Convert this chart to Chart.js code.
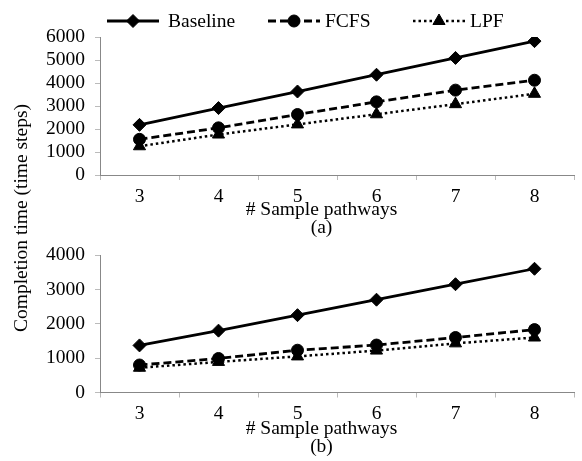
<!DOCTYPE html>
<html>
<head>
<meta charset="utf-8">
<script src="https://cdn.jsdelivr.net/npm/chart.js@4"></script>
<style>
    body { margin: 0; background: #fff; }
    #wrap { position: relative; width: 582px; height: 461px; font-family: 'Liberation Serif', 'Times New Roman', serif; color: #000; }
    #chartA { position: absolute; left: 0; top: 0; }
    #chartB { position: absolute; left: 0; top: 240px; }
    #ytitle { position: absolute; left: 21px; top: 218px; transform: translate(-50%, -50%) rotate(-90deg); white-space: nowrap; font-size: 19.5px; }
    .leg { position: absolute; top: 12px; height: 18px; display: flex; align-items: center; font-size: 19.5px; white-space: nowrap; }
    .leg canvas { display: block; }
    .xt { position: absolute; left: 321.5px; transform: translate(-50%, -50%); white-space: nowrap; font-size: 19.5px; line-height: 1; }
</style>
</head>
<body>
<div id="wrap">
    <canvas id="chartA" width="582" height="240"></canvas>
    <canvas id="chartB" width="582" height="221"></canvas>
    <div id="ytitle">Completion time (time steps)</div>
    <div class="xt" style="top: 208.5px">#&nbsp;Sample pathways</div>
    <div class="xt" style="top: 227px">(a)</div>
    <div class="xt" style="top: 427.5px">#&nbsp;Sample pathways</div>
    <div class="xt" style="top: 446px">(b)</div>
</div>
<script>
const pathways = ['3', '4', '5', '6', '7', '8'];
const seriesNames = ['Baseline', 'FCFS', 'LPF'];

// (a)
const baselineA = [2180, 2910, 3630, 4360, 5090, 5820];
const fcfsA = [1550, 2050, 2630, 3180, 3690, 4120];
const lpfA = [1250, 1760, 2200, 2640, 3080, 3530];

// (b)
const baselineB = [1370, 1800, 2250, 2700, 3150, 3600];
const fcfsB = [800, 990, 1230, 1380, 1600, 1830];
const lpfB = [720, 890, 1050, 1220, 1430, 1600];

const FONT = "'Liberation Serif', 'Times New Roman', serif";
const styles = [
    { dash: [], width: 2.8, point: 'rectRot', radius: 6.5 },
    { dash: [8, 4], width: 2.8, point: 'circle', radius: 6 },
    { dash: [2.5, 3], width: 2.5, point: 'triangle', radius: 7 }
];

// legend is plain html: line+marker icon, then the name
const legendLeft = [107, 268, 413];
const legendGap = [9, 5, 5];

function legendIcon(st) {
    const c = document.createElement('canvas');
    c.width = 52;
    c.height = 18;
    const ctx = c.getContext('2d');
    ctx.strokeStyle = '#000';
    ctx.lineWidth = st.width;
    ctx.setLineDash(st.dash);
    ctx.beginPath();
    ctx.moveTo(0, 9);
    ctx.lineTo(52, 9);
    ctx.stroke();
    ctx.setLineDash([]);
    ctx.fillStyle = '#000';
    ctx.lineWidth = 1;
    Chart.helpers.drawPoint(ctx, { pointStyle: st.point, radius: st.radius, borderWidth: 1, rotation: 0 }, 26, 9);
    return c;
}

seriesNames.forEach((name, i) => {
    const item = document.createElement('div');
    item.className = 'leg';
    item.style.left = legendLeft[i] + 'px';
    item.appendChild(legendIcon(styles[i]));
    const txt = document.createElement('span');
    txt.textContent = name;
    txt.style.marginLeft = legendGap[i] + 'px';
    item.appendChild(txt);
    document.getElementById('wrap').appendChild(item);
});

function makeChart(id, values, max, padding) {
    const datasets = values.map((v, i) => ({
        label: seriesNames[i],
        data: v,
        borderColor: '#000',
        backgroundColor: '#000',
        borderWidth: styles[i].width,
        borderDash: styles[i].dash,
        pointStyle: styles[i].point,
        pointRadius: styles[i].radius,
        pointBorderWidth: 1,
        tension: 0
    }));

    return new Chart(document.getElementById(id), {
        type: 'line',
        data: { labels: pathways, datasets: datasets },
        options: {
            responsive: false,
            animation: false,
            layout: { padding: padding },
            plugins: {
                legend: { display: false },
                tooltip: { enabled: false }
            },
            scales: {
                x: {
                    offset: true,
                    grid: { display: true, drawOnChartArea: false, offset: true, tickLength: 5, color: '#bbb' },
                    border: { color: '#888' },
                    ticks: { color: '#000', font: { family: FONT, size: 19.5, lineHeight: 1 }, padding: 7 }
                },
                y: {
                    min: 0,
                    max: max,
                    ticks: {
                        stepSize: 1000,
                        autoSkip: false,
                        color: '#000',
                        // small lineHeight so the top label does not push the plot down
                        font: { family: FONT, size: 19.5, lineHeight: 0.5 },
                        padding: 10,
                        callback: value => String(value)
                    },
                    grid: { display: true, drawOnChartArea: false, tickLength: 5, color: '#bbb' },
                    border: { color: '#888' }
                }
            }
        }
    });
}

makeChart('chartA', [baselineA, fcfsA, lpfA], 6000, { left: 36, right: 0, top: 37, bottom: 26.5 });
makeChart('chartB', [baselineB, fcfsB, lpfB], 4000, { left: 36, right: 0, top: 15, bottom: 30 });
</script>
</body>
</html>
